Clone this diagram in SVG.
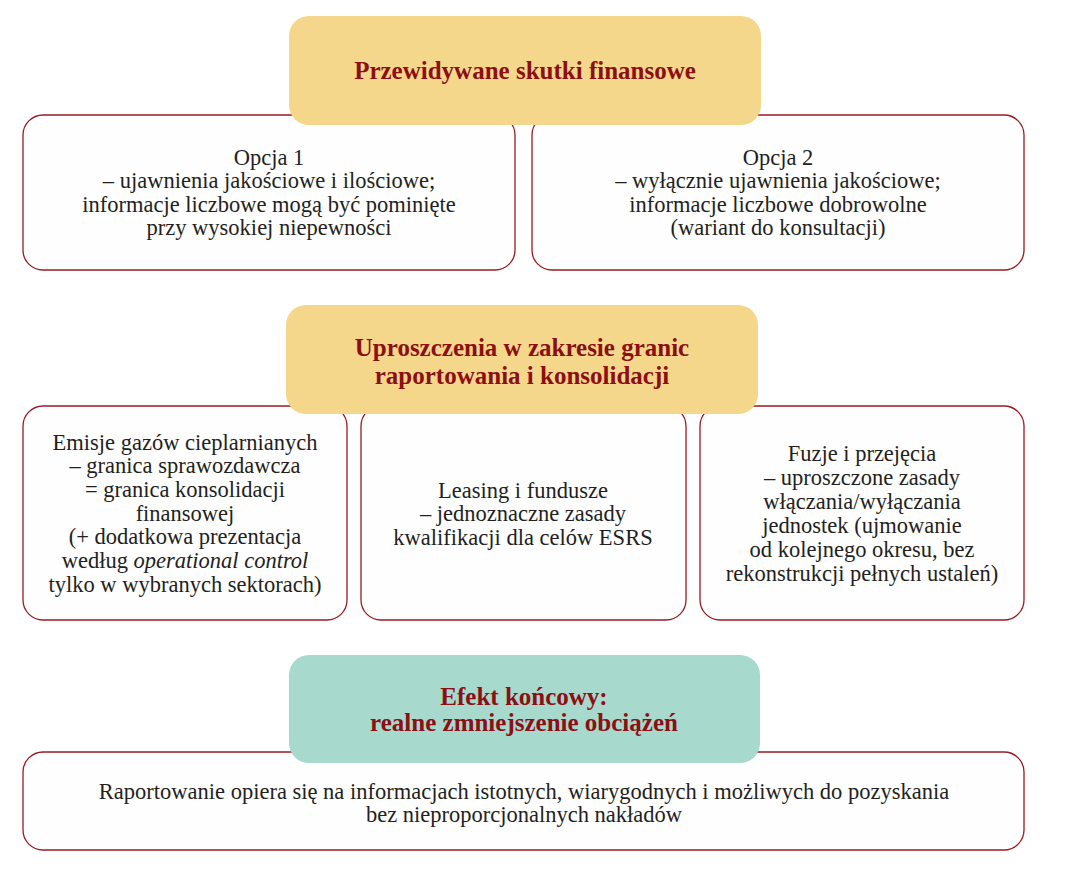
<svg xmlns="http://www.w3.org/2000/svg" width="1073" height="869" viewBox="0 0 1073 869">
<style>
.box{fill:#fefefe;stroke:#9a1a22;stroke-width:1.3}
.hdr{fill:#f4d78b}
.hdr2{fill:#a7dacc}
.t{font-family:"Liberation Serif","Times New Roman",serif;font-size:22.5px;fill:#231f20;text-anchor:middle}
.h{font-family:"Liberation Serif","Times New Roman",serif;font-size:25px;font-weight:bold;fill:#8b0f14;text-anchor:middle}
</style>
<rect width="1073" height="869" fill="#ffffff"/>
<g id="connectors"></g>
<g id="opcja1">
<rect class="box" x="23" y="115" width="492" height="155" rx="20"/>
<text class="t" x="269" y="165">Opcja 1</text>
<text class="t" x="269" y="188">– ujawnienia jakościowe i ilościowe;</text>
<text class="t" x="269" y="212">informacje liczbowe mogą być pominięte</text>
<text class="t" x="269" y="235">przy wysokiej niepewności</text>
</g>
<g id="opcja2">
<rect class="box" x="532" y="115" width="492" height="155" rx="20"/>
<text class="t" x="778" y="165">Opcja 2</text>
<text class="t" x="778" y="188">– wyłącznie ujawnienia jakościowe;</text>
<text class="t" x="778" y="212">informacje liczbowe dobrowolne</text>
<text class="t" x="778" y="235">(wariant do konsultacji)</text>
</g>
<g id="skutki">
<rect class="hdr" x="289" y="16" width="472" height="109" rx="20"/>
<text class="h" x="525" y="79">Przewidywane skutki finansowe</text>
</g>
<g id="emisje">
<rect class="box" x="23" y="406" width="324" height="214" rx="20"/>
<text class="t" x="185" y="450">Emisje gazów cieplarnianych</text>
<text class="t" x="185" y="473">– granica sprawozdawcza</text>
<text class="t" x="185" y="497">= granica konsolidacji</text>
<text class="t" x="185" y="521">finansowej</text>
<text class="t" x="185" y="544">(+ dodatkowa prezentacja</text>
<text class="t" x="185" y="568">według <tspan font-style="italic">operational control</tspan></text>
<text class="t" x="185" y="592">tylko w wybranych sektorach)</text>
</g>
<g id="leasing">
<rect class="box" x="361" y="406" width="325" height="214" rx="20"/>
<text class="t" x="523" y="498">Leasing i fundusze</text>
<text class="t" x="523" y="521">– jednoznaczne zasady</text>
<text class="t" x="523" y="545">kwalifikacji dla celów ESRS</text>
</g>
<g id="fuzje">
<rect class="box" x="700" y="406" width="324" height="214" rx="20"/>
<text class="t" x="862" y="461">Fuzje i przejęcia</text>
<text class="t" x="862" y="485">– uproszczone zasady</text>
<text class="t" x="862" y="509">włączania/wyłączania</text>
<text class="t" x="862" y="533">jednostek (ujmowanie</text>
<text class="t" x="862" y="557">od kolejnego okresu, bez</text>
<text class="t" x="862" y="581">rekonstrukcji pełnych ustaleń)</text>
</g>
<g id="uproszczenia">
<rect class="hdr" x="286" y="305" width="472" height="109" rx="20"/>
<text class="h" x="522" y="356">Uproszczenia w zakresie granic</text>
<text class="h" x="522" y="384">raportowania i konsolidacji</text>
</g>
<g id="raportowanie">
<rect class="box" x="23" y="752" width="1001" height="98" rx="20"/>
<text class="t" x="524" y="799">Raportowanie opiera się na informacjach istotnych, wiarygodnych i możliwych do pozyskania</text>
<text class="t" x="524" y="822">bez nieproporcjonalnych nakładów</text>
</g>
<g id="efekt">
<rect class="hdr2" x="289" y="655" width="471" height="108" rx="20"/>
<text class="h" x="524" y="705">Efekt końcowy:</text>
<text class="h" x="524" y="731">realne zmniejszenie obciążeń</text>
</g>
</svg>
